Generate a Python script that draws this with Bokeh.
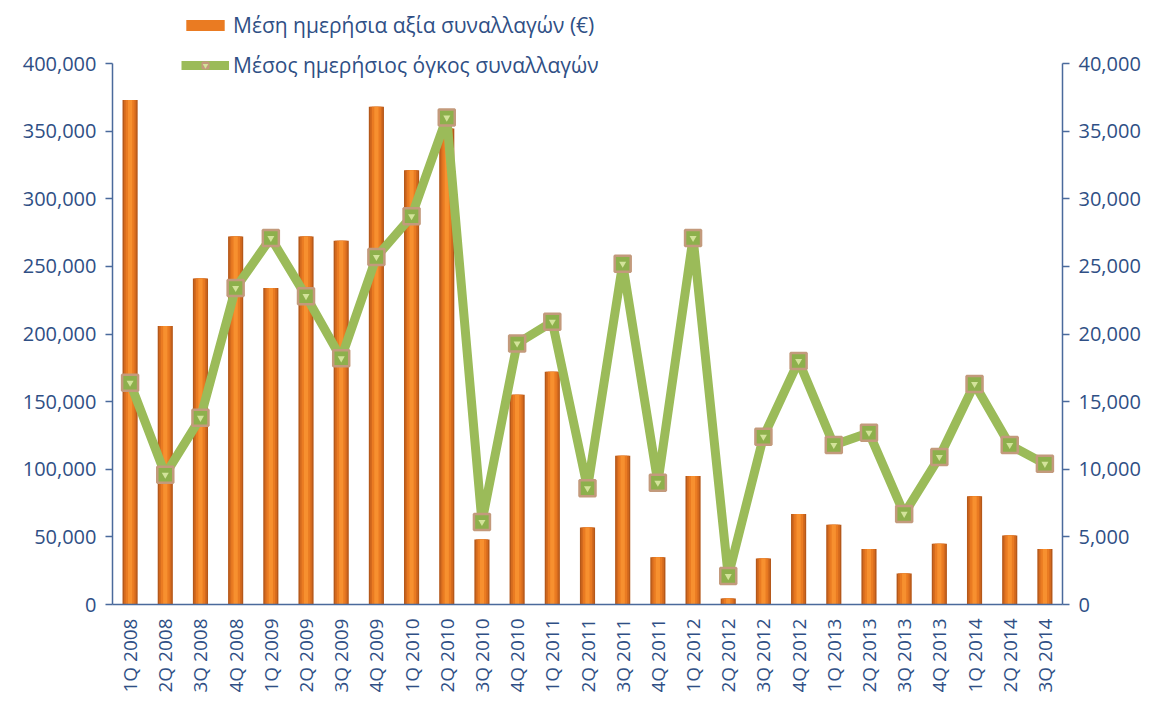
from bokeh.plotting import figure
from bokeh.models import (FactorRange, Range1d, LinearAxis, FixedTicker,
                          NumeralTickFormatter, Legend, LegendItem, ColumnDataSource)
from bokeh.embed import file_html
from bokeh.resources import INLINE

categories = ["1Q 2008", "2Q 2008", "3Q 2008", "4Q 2008", "1Q 2009", "2Q 2009", "3Q 2009",
              "4Q 2009", "1Q 2010", "2Q 2010", "3Q 2010", "4Q 2010", "1Q 2011", "2Q 2011",
              "3Q 2011", "4Q 2011", "1Q 2012", "2Q 2012", "3Q 2012", "4Q 2012", "1Q 2013",
              "2Q 2013", "3Q 2013", "4Q 2013", "1Q 2014", "2Q 2014", "3Q 2014"]
value_eur = [373000, 206000, 241000, 272000, 234000, 272000, 269000, 368000, 321000, 352000,
             48000, 155000, 172000, 57000, 110000, 35000, 95000, 4500, 34000, 67000,
             59000, 41000, 23000, 45000, 80000, 51000, 41000]
volume = [16400, 9600, 13800, 23400, 27100, 22800, 18200, 25700, 28700, 36000,
          6100, 19300, 20900, 8600, 25200, 9000, 27100, 2100, 12400, 18000,
          11800, 12700, 6700, 10900, 16300, 11800, 10400]
label_bar = "Μέση ημερήσια αξία συναλλαγών (€)"
label_line = "Μέσος ημερήσιος όγκος συναλλαγών"
left_ticks = [0, 50000, 100000, 150000, 200000, 250000, 300000, 350000, 400000]
right_ticks = [0, 5000, 10000, 15000, 20000, 25000, 30000, 35000, 40000]

src = ColumnDataSource(dict(x=categories, v=value_eur, vol=volume))

TXT = "#2F4F85"
AX = "#4A6A9C"
FONT = "Open Sans"

# layout: frame spans the full canvas top so the legend fits inside it;
# axes are bounded to the 0..max tick region
W, H = 1150, 700
LEFT, RIGHT, BOTTOM = 112, 88, 96
FRAME_H = H - BOTTOM
AXIS_PX = 541  # pixel height of the 0..400,000 span
top_factor = FRAME_H / AXIS_PX

p = figure(width=W, height=H, x_range=FactorRange(*categories, range_padding=0),
           y_range=Range1d(0, left_ticks[-1] * top_factor), output_backend="svg",
           toolbar_location=None, min_border_left=LEFT, min_border_right=RIGHT,
           min_border_top=0, min_border_bottom=BOTTOM)
p.extra_y_ranges = {"vol": Range1d(0, right_ticks[-1] * top_factor)}
p.outline_line_color = None
p.grid.visible = False
p.background_fill_color = "white"

# bars with simulated gradient
p.vbar(x="x", top="v", width=0.43, source=src, fill_color="#B5581A", line_color=None)
p.vbar(x="x", top="v", width=0.35, source=src, fill_color="#D46A1E", line_color=None)
b3 = p.vbar(x="x", top="v", width=0.25, source=src, fill_color="#EA7B22", line_color=None)
p.vbar(x="x", top="v", width=0.12, source=src, fill_color="#F7902F", line_color=None)

# line
l1 = p.line(x="x", y="vol", source=src, y_range_name="vol", line_color="#9BBB59", line_width=9)
s1 = p.scatter(x="x", y="vol", source=src, y_range_name="vol", marker="square", size=16,
               fill_color="#8DB04C", line_color="#C39A7C", line_width=2.5)
s2 = p.scatter(x="x", y="vol", source=src, y_range_name="vol", marker="inverted_triangle",
               size=7, fill_color="#D3E39A", line_color=None)

# axes
p.yaxis.ticker = FixedTicker(ticks=left_ticks)
p.yaxis.formatter = NumeralTickFormatter(format="0,0")
p.yaxis.bounds = (left_ticks[0], left_ticks[-1])
ra = LinearAxis(y_range_name="vol", ticker=FixedTicker(ticks=right_ticks),
                formatter=NumeralTickFormatter(format="0,0"),
                bounds=(right_ticks[0], right_ticks[-1]))
p.add_layout(ra, "right")

for ax in [p.yaxis[0], ra]:
    ax.axis_line_color = AX
    ax.axis_line_width = 1.5
    ax.major_tick_line_color = AX
    ax.major_tick_line_width = 1.5
    ax.major_tick_out = 7
    ax.major_tick_in = 0
    ax.minor_tick_line_color = None
    ax.major_label_text_font = FONT
    ax.major_label_text_font_size = "20px"
    ax.major_label_text_color = TXT
    ax.major_label_standoff = 9

xa = p.xaxis[0]
xa.axis_line_color = AX
xa.axis_line_width = 1.5
xa.major_tick_line_color = None
xa.minor_tick_line_color = None
xa.major_label_orientation = 1.5708
xa.major_label_text_font = FONT
xa.major_label_text_font_size = "19px"
xa.major_label_text_color = TXT
xa.major_label_standoff = 8

legend = Legend(items=[LegendItem(label=label_bar, renderers=[b3]),
                       LegendItem(label=label_line, renderers=[l1, s1, s2])],
                location=(67, FRAME_H - 8 - 74), orientation="vertical",
                label_text_font=FONT, label_text_font_size="21px", label_text_color=TXT,
                glyph_width=48, glyph_height=14, label_height=30, spacing=10,
                padding=2, margin=0, label_standoff=4,
                background_fill_alpha=0, border_line_alpha=0)
p.add_layout(legend, "center")

open("out.html", "w").write(file_html(p, INLINE))
